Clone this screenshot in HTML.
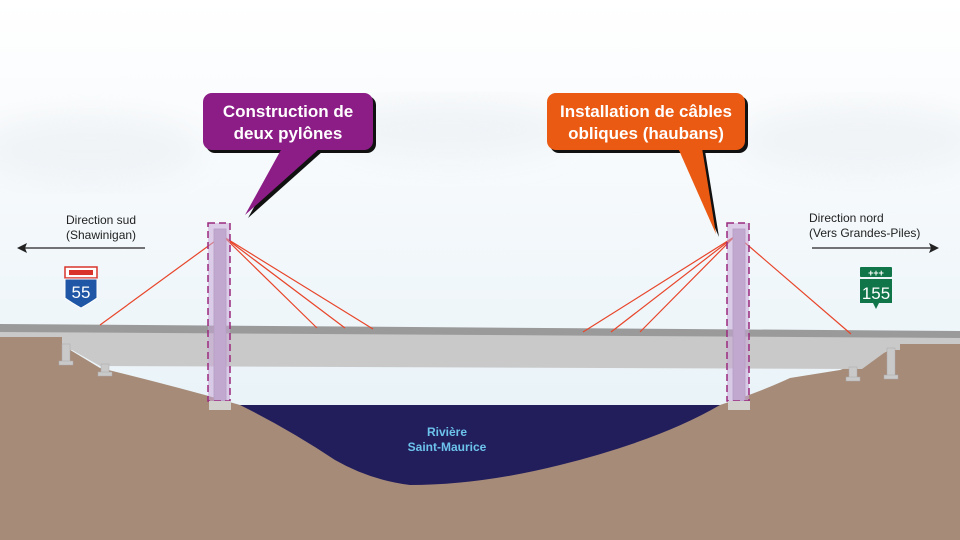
<!DOCTYPE html>
<html><head><meta charset="utf-8"><style>
html,body{margin:0;padding:0;width:960px;height:540px;overflow:hidden}
svg{display:block}
text{font-family:"Liberation Sans",sans-serif}
</style></head><body>
<svg width="960" height="540" viewBox="0 0 960 540" xmlns="http://www.w3.org/2000/svg">
<defs>
<linearGradient id="sky" x1="0" y1="0" x2="0" y2="1">
<stop offset="0" stop-color="#ffffff"/><stop offset="0.3" stop-color="#f7fafc"/><stop offset="1" stop-color="#e2f0f6"/>
</linearGradient>
<filter id="bl"><feGaussianBlur stdDeviation="14"/></filter>
</defs>
<rect width="960" height="540" fill="url(#sky)"/>
<g filter="url(#bl)" fill="#edf1f4" opacity="0.7">
<ellipse cx="90" cy="150" rx="110" ry="35"/>
<ellipse cx="450" cy="130" rx="120" ry="30"/>
<ellipse cx="860" cy="140" rx="120" ry="35"/>
</g>
<!-- ground -->
<path d="M0,336 L62,336 L62,345 L100,368 Q150,380 205,395 L240,405 L720,405 Q760,392 790,378 L840,370 L880,355 L900,344 L960,344 L960,540 L0,540 Z" fill="#a68b79"/>
<!-- river -->
<path d="M240,405 L720,405 Q660,440 560,465 Q480,485 410,485 Q370,480 335,460 Q290,430 240,405 Z" fill="#221e5c"/>
<text x="447" y="436" font-size="12" font-weight="bold" fill="#6cc3ec" text-anchor="middle">Rivière</text>
<text x="447" y="451" font-size="12" font-weight="bold" fill="#6cc3ec" text-anchor="middle">Saint-Maurice</text>
<!-- deck -->
<polygon points="0,330 960,337 960,344 900,344 900,350 888,350 862,369 100,366 72,350 62,350 62,337 0,337" fill="#c9c9c9"/>
<polygon points="0,324 960,331 960,338 0,332" fill="#9a9a9a"/>
<!-- piers -->
<g fill="#c9c9c9" stroke="#aaa" stroke-width="0.5">
<rect x="62" y="344" width="8" height="18"/><rect x="59" y="361" width="14" height="4"/>
<rect x="101" y="364" width="8" height="9"/><rect x="98" y="372" width="14" height="4"/>
<rect x="849" y="367" width="8" height="11"/><rect x="846" y="377" width="14" height="4"/>
<rect x="887" y="348" width="8" height="28"/><rect x="884" y="375" width="14" height="4"/>
</g>
<!-- cables -->
<g stroke="#e8452a" stroke-width="1.2">
<line x1="222" y1="236" x2="100" y2="325"/>
<line x1="224" y1="237" x2="317" y2="328"/>
<line x1="224" y1="237" x2="345" y2="328"/>
<line x1="224" y1="237" x2="373" y2="329"/>
<line x1="734" y1="237" x2="583" y2="332"/>
<line x1="734" y1="237" x2="611" y2="332"/>
<line x1="734" y1="237" x2="640" y2="332"/>
<line x1="743" y1="241" x2="851" y2="334"/>
</g>
<!-- pylons -->
<rect x="214" y="229" width="12" height="172" fill="#b8a9c3" stroke="#9e90a8" stroke-width="0.8"/>
<rect x="208" y="223" width="22" height="178" fill="#c8a8d8" fill-opacity="0.55" stroke="#9a2a7e" stroke-width="1.5" stroke-dasharray="7,4"/>
<rect x="209" y="401" width="22" height="9" fill="#d2d0cc"/>
<rect x="733" y="229" width="12" height="172" fill="#b8a9c3" stroke="#9e90a8" stroke-width="0.8"/>
<rect x="727" y="223" width="22" height="178" fill="#c8a8d8" fill-opacity="0.55" stroke="#9a2a7e" stroke-width="1.5" stroke-dasharray="7,4"/>
<rect x="728" y="401" width="22" height="9" fill="#d2d0cc"/>
<!-- callouts -->
<g transform="translate(3,3)" fill="#111">
<rect x="203" y="93" width="170" height="57" rx="9"/>
<polygon points="282,148 320,148 245,215"/>
<rect x="547" y="93" width="198" height="57" rx="9"/>
<polygon points="678,148 702,148 716,234"/>
</g>
<rect x="203" y="93" width="170" height="57" rx="9" fill="#8c1d86"/>
<polygon points="282,148 320,148 245,215" fill="#8c1d86"/>
<rect x="547" y="93" width="198" height="57" rx="9" fill="#ea5a12"/>
<polygon points="678,148 702,148 716,234" fill="#ea5a12"/>
<g font-size="17" font-weight="bold" fill="#fff" text-anchor="middle">
<text x="288" y="117">Construction de</text>
<text x="288" y="139">deux pylônes</text>
<text x="646" y="117">Installation de câbles</text>
<text x="646" y="139">obliques (haubans)</text>
</g>
<!-- directions -->
<g font-size="12" fill="#222">
<text x="66" y="224">Direction sud</text>
<text x="66" y="239">(Shawinigan)</text>
<text x="809" y="222">Direction nord</text>
<text x="809" y="237">(Vers Grandes-Piles)</text>
</g>
<line x1="145" y1="248" x2="24" y2="248" stroke="#222" stroke-width="1.3"/>
<polygon points="17,248 27,243 25,248 27,253" fill="#222"/>
<line x1="812" y1="248" x2="932" y2="248" stroke="#222" stroke-width="1.3"/>
<polygon points="939,248 929,243 931,248 929,253" fill="#222"/>
<!-- 55 sign -->
<rect x="65" y="267" width="32" height="11" fill="#fff" stroke="#d9342b" stroke-width="1.5"/>
<rect x="69" y="270" width="24" height="5" fill="#d9342b"/>
<path d="M65,279 L97,279 L97,298 Q90,303 81,308 Q72,303 65,298 Z" fill="#1f57a6" stroke="#fff" stroke-width="1"/>
<text x="81" y="298" font-size="17" fill="#fff" text-anchor="middle">55</text>
<!-- 155 sign -->
<rect x="860" y="267" width="32" height="10" rx="1" fill="#11754a"/>
<text x="876" y="276" font-size="9" fill="#fff" text-anchor="middle" font-weight="bold">+++</text>
<path d="M860,279 L892,279 L892,303 L879,303 L876,309 L873,303 L860,303 Z" fill="#11754a"/>
<text x="876" y="299" font-size="17" fill="#fff" text-anchor="middle">155</text>
</svg>
</body></html>
